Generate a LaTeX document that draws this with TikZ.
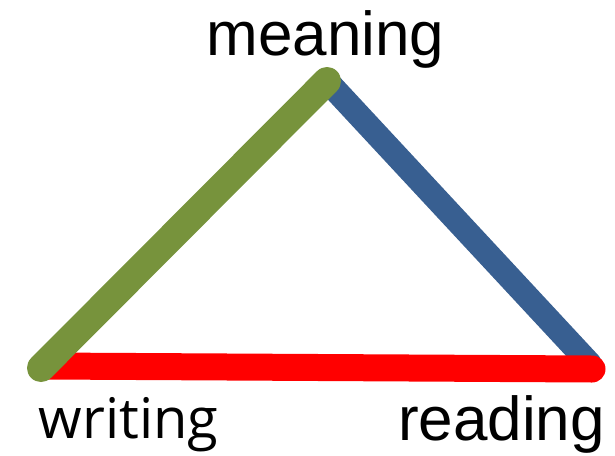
\documentclass[tikz,border=0pt]{standalone}
\usepackage{fontspec}
\setmainfont{Liberation Sans}
\newfontfamily\writefont{Open Sans}
\definecolor{olivegreen}{HTML}{77933C}
\definecolor{steelblue}{HTML}{385F91}
\definecolor{pureRed}{HTML}{FF0000}
\begin{document}
\begin{tikzpicture}[x=1pt,y=-1pt,
  edge/.style={line cap=round},
  lbl/.style={inner sep=0pt,anchor=base,font=\fontsize{62}{62}\selectfont}]
\useasboundingbox (0,0) rectangle (615,455);
\coordinate (M) at (327,81);
\coordinate (W) at (41,368);
\coordinate (Wr) at (46,366);
\coordinate (R) at (592,369);
\coordinate (Rb) at (590,364);
\draw[edge,steelblue,line width=24pt] (M) -- (Rb);
\draw[edge,pureRed,line width=27pt] (Wr) -- (R);
\draw[edge,olivegreen,line width=28pt] (W) -- (M);
\node[lbl] (meaning) at (325.5,55) {meaning};
\node[lbl] (reading) at (501.5,440) {reading};
\node[lbl,font=\writefont\fontsize{56}{56}\selectfont] (writing) at (128.5,438) {writing};
\end{tikzpicture}
\end{document}
